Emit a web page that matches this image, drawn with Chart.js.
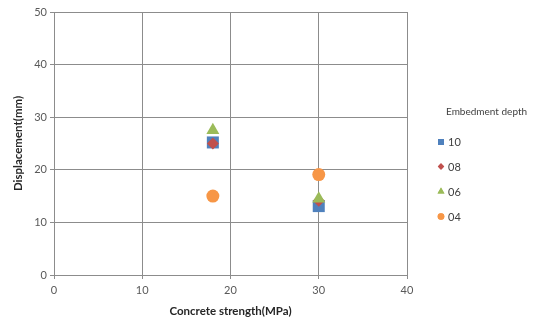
<!DOCTYPE html>
<html>
<head>
<meta charset="utf-8">
<script src="https://cdn.jsdelivr.net/npm/chart.js@4"></script>
<style>
  html, body { margin: 0; padding: 0; background: #fff; }
  #wrap { width: 555px; height: 323px; }
</style>
</head>
<body>
<div id="wrap"><canvas id="c" width="555" height="323"></canvas></div>
<script>
// Embedment depth series: concrete strength (MPa) vs displacement (mm)
const seriesNames = ['10', '08', '06', '04'];
const strength = [18, 30];
const disp10 = [25.2, 13.1];
const disp08 = [25.0, 14.1];
const disp06 = [27.5, 14.5];
const disp04 = [15.0, 19.1];
const xTicks = [0, 10, 20, 30, 40];
const yTicks = [0, 10, 20, 30, 40, 50];

const colors = ['#4F81BD', '#C0504D', '#9BBB59', '#F79646'];
const shapes = ['rect', 'rectRot', 'triangle', 'circle'];
const radii = [8.5, 6, 7.5, 6.5];
const legendRadii = [4.2, 3.2, 4, 3.3];
const values = [disp10, disp08, disp06, disp04];

const datasets = seriesNames.map((name, i) => ({
  label: name,
  data: strength.map((x, j) => ({ x: x, y: values[i][j] })),
  backgroundColor: colors[i],
  borderColor: colors[i],
  borderWidth: 0,
  pointStyle: shapes[i],
  pointRadius: radii[i],
  pointHoverRadius: radii[i],
  order: seriesNames.length - i
}));

const font = "Lato, 'Open Sans', 'Liberation Sans', sans-serif";

// Legend block to the right of the plot
const sideLegend = {
  id: 'sideLegend',
  afterDraw(chart) {
    const ctx = chart.ctx;
    ctx.save();
    ctx.fillStyle = '#404040';
    ctx.font = '10px ' + font;
    ctx.textBaseline = 'middle';
    ctx.textAlign = 'left';
    ctx.fillText('Embedment depth', 446, 112);
    const ys = [142, 166.5, 191.5, 216.5];
    seriesNames.forEach((name, i) => {
      ctx.fillStyle = colors[i];
      Chart.helpers.drawPoint(ctx, {
        pointStyle: shapes[i], radius: legendRadii[i], borderWidth: 0, rotation: 0
      }, 441, ys[i]);
      ctx.fill();
      ctx.fillStyle = '#404040';
      ctx.font = '11px ' + font;
      ctx.fillText(name, 448, ys[i] + 0.5);
    });
    ctx.restore();
  }
};

new Chart(document.getElementById('c'), {
  type: 'scatter',
  data: { datasets: datasets },
  options: {
    responsive: false,
    animation: false,
    devicePixelRatio: 1,
    layout: { padding: { top: 12, right: 148, left: 0, bottom: 0 } },
    plugins: {
      legend: { display: false },
      tooltip: { enabled: false }
    },
    scales: {
      x: {
        type: 'linear',
        min: 0, max: 40,
        afterBuildTicks: (s) => { s.ticks = xTicks.map(v => ({ value: v })); },
        afterFit: (s) => { s.height = 48; },
        grid: { color: '#8c8c8c', lineWidth: 1, tickLength: 4, drawTicks: true },
        border: { color: '#8c8c8c' },
        ticks: { color: '#595959', font: { family: font, size: 11 }, padding: 5, maxRotation: 0 },
        title: {
          display: true, text: 'Concrete strength(MPa)', color: '#262626',
          font: { family: font, size: 11.5, weight: 'bold' }, padding: { top: 4, bottom: 5 }
        }
      },
      y: {
        type: 'linear',
        min: 0, max: 50,
        afterBuildTicks: (s) => { s.ticks = yTicks.map(v => ({ value: v })); },
        afterFit: (s) => { s.width = 54; },
        grid: { color: '#8c8c8c', lineWidth: 1, tickLength: 4, drawTicks: true },
        border: { color: '#8c8c8c' },
        ticks: { color: '#595959', font: { family: font, size: 11 }, padding: 3 },
        title: {
          display: true, text: 'Displacement(mm)', color: '#262626',
          font: { family: font, size: 11.5, weight: 'bold' }, padding: { top: 11, bottom: 4 }
        }
      }
    }
  },
  plugins: [sideLegend]
});
</script>
</body>
</html>
